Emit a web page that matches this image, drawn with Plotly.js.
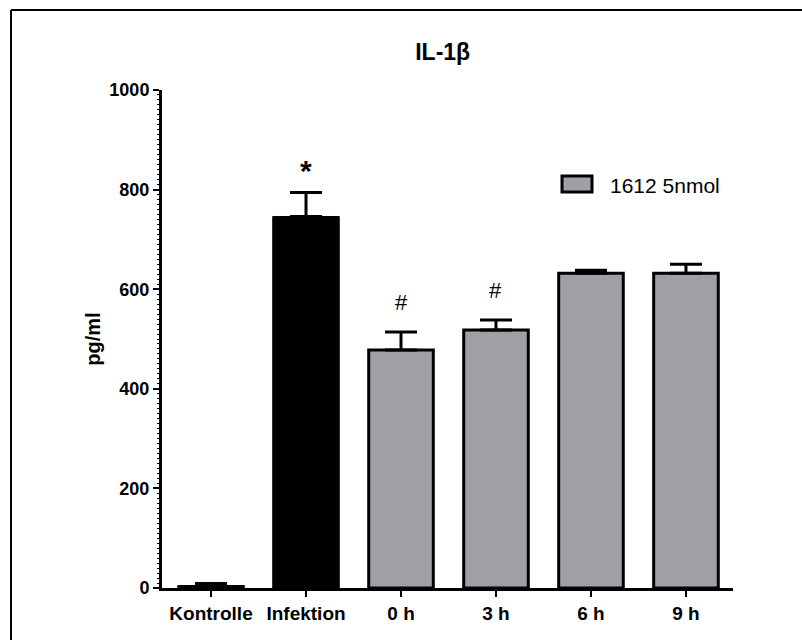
<!DOCTYPE html>
<html>
<head>
<meta charset="utf-8">
<script src="https://cdn.plot.ly/plotly-3.0.1.min.js"></script>
<style>html,body{margin:0;padding:0;background:#fff;}#chart{width:802px;height:640px;}</style>
</head>
<body>
<div id="chart"></div>
<script>
// Data
const categories = ["Kontrolle", "Infektion", "0 h", "3 h", "6 h", "9 h"];
const ctrlCats = ["Kontrolle", "Infektion"];
const ctrlValues = [5, 746];
const ctrlErrors = [4, 48];
const seriesName = "1612 5nmol";
const treatCats = ["0 h", "3 h", "6 h", "9 h"];
const treatValues = [478, 518, 632, 632];
const treatErrors = [36, 20, 6, 18];
const sigMarks = [
  {cat: "Infektion", y: 838, text: "*"},
  {cat: "0 h", y: 574, text: "#"},
  {cat: "3 h", y: 598, text: "#"}
];
const yTicks = [0, 200, 400, 600, 800, 1000];

const font = "Arial, 'Liberation Sans', sans-serif";

const traces = [
  {
    type: "bar", x: ctrlCats, y: ctrlValues, width: 0.7,
    marker: {color: "#000000", line: {color: "#000000", width: 1}},
    error_y: {type: "data", symmetric: false, array: ctrlErrors, arrayminus: ctrlErrors.map(() => 0),
              color: "#000000", thickness: 3, width: 16},
    showlegend: false, hoverinfo: "skip"
  },
  {
    type: "bar", x: treatCats, y: treatValues, width: 0.68, name: seriesName,
    marker: {color: "#a09fa4", line: {color: "#000000", width: 3}},
    error_y: {type: "data", symmetric: false, array: treatErrors, arrayminus: treatErrors.map(() => 0),
              color: "#000000", thickness: 3, width: 16},
    showlegend: false, hoverinfo: "skip"
  }
];

const annotations = sigMarks.map(m => ({
  x: m.cat, y: m.y, xref: "x", yref: "y", text: m.text, showarrow: false,
  font: {family: font, size: m.text === "*" ? 30 : 22, color: "#000", weight: m.text === "*" ? "bold" : "normal"},
  yanchor: "middle"
}));
annotations.push({
  x: (608 - 162) / 571, y: (588 - 185) / 498, xref: "paper", yref: "paper", text: seriesName, showarrow: false,
  xanchor: "left", yanchor: "middle", font: {family: font, size: 21, color: "#000"}
});

const layout = {
  width: 802, height: 640,
  margin: {l: 162, r: 69, t: 90, b: 52},
  paper_bgcolor: "#fff", plot_bgcolor: "#fff",
  barmode: "overlay",
  title: {text: "<b>IL-1β</b>", x: 0.552, xanchor: "center", y: 1 - 52/640, yanchor: "middle",
          font: {family: font, size: 23, color: "#000"}},
  xaxis: {
    type: "category", categoryorder: "array", categoryarray: categories,
    range: [-0.516, 5.495], showgrid: false, zeroline: false,
    showline: true, linecolor: "#000", linewidth: 3,
    ticks: "outside", ticklen: 6, tickwidth: 2, tickcolor: "#000",
    tickfont: {family: font, size: 19, color: "#000", weight: "bold"}
  },
  yaxis: {
    range: [0, 1000], tickvals: yTicks, ticktext: yTicks.map(String),
    showgrid: false, zeroline: false,
    showline: true, linecolor: "#000", linewidth: 3,
    ticks: "outside", ticklen: 6, tickwidth: 2, tickcolor: "#000",
    minor: {ticks: "outside", ticklen: 2, tickwidth: 1, tickcolor: "#000", dtick: 10},
    tickfont: {family: font, size: 18, color: "#000", weight: "bold"},
    title: {text: "<b>pg/ml</b>", standoff: 4, font: {family: font, size: 20, color: "#000"}}
  },
  annotations: annotations,
  shapes: [
    {type: "line", xref: "paper", yref: "paper", x0: -151/571, x1: 2, y0: 1 + 80/498, y1: 1 + 80/498,
     line: {color: "#000", width: 2}},
    {type: "line", xref: "paper", yref: "paper", x0: -151/571, x1: -151/571, y0: 1 + 80/498, y1: -1,
     line: {color: "#000", width: 2}},
    {type: "rect", xref: "paper", yref: "paper",
     x0: (562 - 162)/571, x1: (592 - 162)/571, y0: (588 - 192)/498, y1: (588 - 176)/498,
     fillcolor: "#a09fa4", line: {color: "#000", width: 3}}
  ]
};

Plotly.newPlot("chart", traces, layout, {displayModeBar: false, staticPlot: true});
</script>
</body>
</html>
